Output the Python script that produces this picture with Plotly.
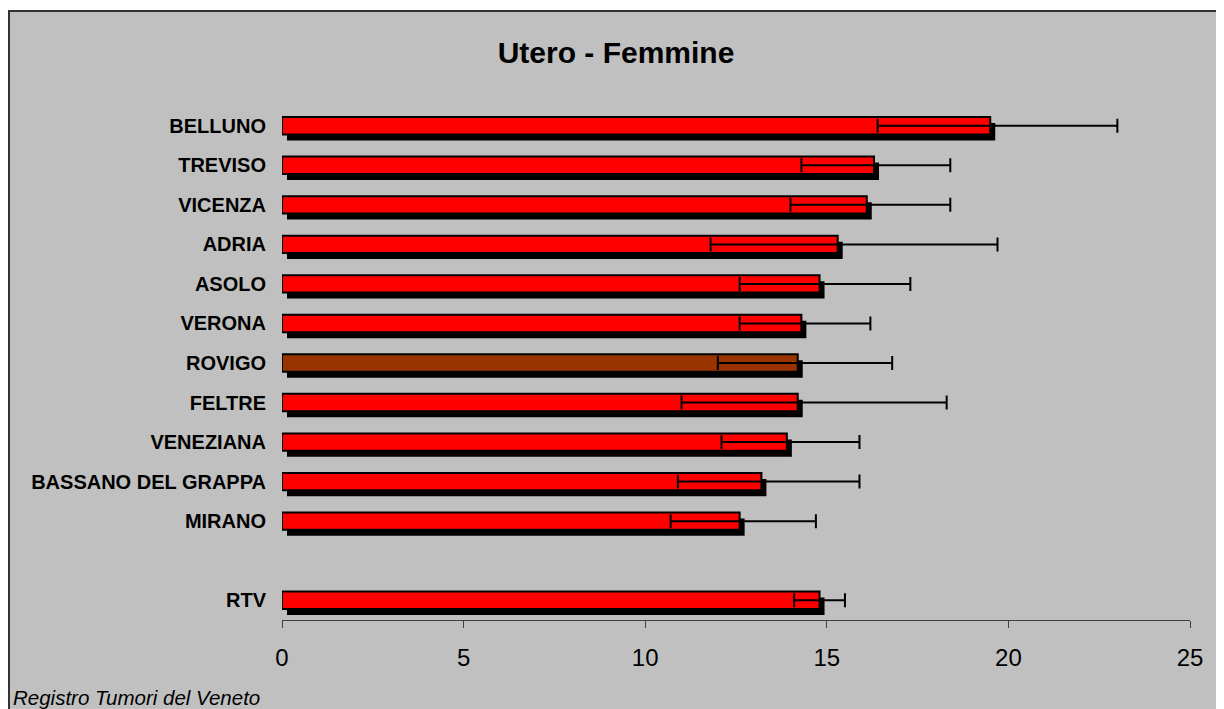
import plotly.graph_objects as go

# dati (tassi), dall'alto verso il basso
registri = ["BELLUNO", "TREVISO", "VICENZA", "ADRIA", "ASOLO", "VERONA", "ROVIGO",
            "FELTRE", "VENEZIANA", "BASSANO DEL GRAPPA", "MIRANO", " ", "RTV"]
tasso = [19.5, 16.3, 16.1, 15.3, 14.8, 14.3, 14.2, 14.2, 13.9, 13.2, 12.6, None, 14.8]
ic_inf = [16.4, 14.3, 14.0, 11.8, 12.6, 12.6, 12.0, 11.0, 12.1, 10.9, 10.7, None, 14.1]
ic_sup = [23.0, 18.4, 18.4, 19.7, 17.3, 16.2, 16.8, 18.3, 15.9, 15.9, 14.7, None, 15.5]
colori = ["#FF0000"] * 6 + ["#993300"] + ["#FF0000"] * 6

err_plus = [None if t is None else s - t for t, s in zip(tasso, ic_sup)]
err_minus = [None if t is None else t - i for t, i in zip(tasso, ic_inf)]

# la pagina ha 8px di margine: le coordinate sono quelle della figura
W, H = 1224, 709
ML, MR, MT, MB = 274, 42, 98, 97
PW, PH = W - ML - MR, H - MT - MB
px_x = 25 / PW          # unita' dati per pixel (asse x)
px_y = 13 / PH          # unita' categoria per pixel (asse y)
bw = 0.44

fig = go.Figure()

# ombra
fig.add_trace(go.Bar(
    y=registri, x=tasso, orientation="h",
    base=5 * px_x, width=bw, offset=-bw / 2 + 6 * px_y,
    marker=dict(color="black", line=dict(width=0)),
    hoverinfo="skip", showlegend=False,
))

# barre con intervalli di confidenza
fig.add_trace(go.Bar(
    y=registri, x=tasso, orientation="h",
    width=bw, offset=-bw / 2,
    marker=dict(color=colori, line=dict(color="black", width=2)),
    error_x=dict(type="data", symmetric=False, array=err_plus, arrayminus=err_minus,
                 color="black", thickness=2, width=7),
    showlegend=False,
))

fig.update_layout(
    width=W, height=H,
    barmode="overlay",
    paper_bgcolor="white",
    plot_bgcolor="#C0C0C0",
    margin=dict(l=ML, r=MR, t=MT, b=MB),
    font=dict(family="Arial, Liberation Sans", color="black"),
    title=dict(text="<b>Utero - Femmine</b>", x=(616 - 8) / W, xanchor="center",
               y=1 - (52 - 8) / H, yanchor="middle", font=dict(size=30)),
    shapes=[dict(type="rect", xref="paper", yref="paper", layer="below",
                 x0=(1 - ML) / PW, x1=1 + (MR + 20) / PW,
                 y0=-(MB + 20) / PH, y1=1 + (MT - 3) / PH,
                 fillcolor="#C0C0C0", line=dict(color="#333333", width=2))],
    annotations=[dict(text="<i>Registro Tumori del Veneto</i>", xref="paper", yref="paper",
                      x=(3 - ML) / PW, y=(MT + PH - 689) / PH,
                      xanchor="left", yanchor="middle", showarrow=False,
                      font=dict(size=20.5))],
)

fig.update_xaxes(range=[0, 25], dtick=5, showgrid=False, zeroline=False,
                 showline=True, linecolor="#404040", linewidth=1,
                 ticks="outside", ticklen=7, tickcolor="#404040",
                 tickfont=dict(size=24), ticklabelstandoff=9)
fig.update_yaxes(categoryorder="array", categoryarray=registri, autorange="reversed",
                 showgrid=False, zeroline=False, showline=False, ticks="",
                 tickfont=dict(size=20, weight="bold"), ticklabelstandoff=15)

fig.write_html("out.html")
